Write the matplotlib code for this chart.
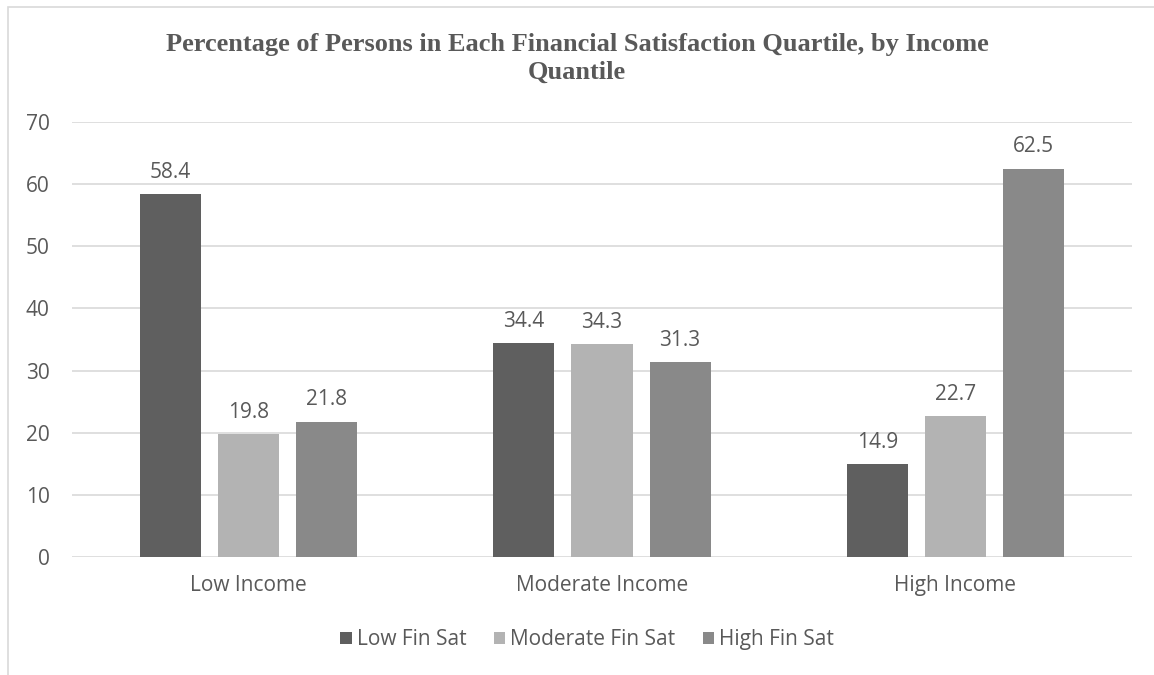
import numpy as np
import matplotlib.pyplot as plt
from matplotlib.patches import Rectangle

groups = ['Low Income', 'Moderate Income', 'High Income']
series = ['Low Fin Sat', 'Moderate Fin Sat', 'High Fin Sat']
low_fin = [58.4, 34.4, 14.9]
mod_fin = [19.8, 34.3, 22.7]
high_fin = [21.8, 31.3, 62.5]
colors = ['#5f5f5f', '#b3b3b3', '#898989']
title_lines = ['Percentage of Persons in Each Financial Satisfaction Quartile, by Income',
               'Quantile']

plt.rcParams['font.family'] = ['Open Sans', 'DejaVu Sans']
txt = '#595959'
fs = 15

fig = plt.figure(figsize=(11.54, 6.75), dpi=100)
# chart border (runs off the right and bottom edge)
fig.patches.append(Rectangle((8 / 1154, -0.05), 1.1, 1.05 - 7 / 675,
                             transform=fig.transFigure, fill=False,
                             edgecolor='#d9d9d9', lw=1.2))
ax = fig.add_axes([72 / 1154, 1 - 557 / 675, 1060 / 1154, 435 / 675])

x = np.arange(len(groups))
w = 0.173
step = 0.221
for i, (vals, name) in enumerate(zip([low_fin, mod_fin, high_fin], series)):
    bars = ax.bar(x + (i - 1) * step, vals, w, color=colors[i], label=name, zorder=3)
    for b, v in zip(bars, vals):
        ax.annotate(f'{v:.1f}', (b.get_x() + b.get_width() / 2, v),
                    xytext=(0, 8), textcoords='offset points',
                    ha='center', va='bottom', fontsize=fs, color=txt)

ax.set_xlim(-0.5, 2.5)
ax.set_ylim(0, 70)
ax.set_yticks(range(0, 71, 10))
ax.set_xticks(x)
ax.set_xticklabels(groups)
ax.grid(axis='y', color='#d9d9d9', lw=1.2, zorder=0)
for s in ax.spines.values():
    s.set_visible(False)
ax.tick_params(length=0, labelsize=fs, labelcolor=txt)
ax.tick_params(axis='y', pad=16)
ax.tick_params(axis='x', pad=13)

for yy, line in zip([45, 72], title_lines):
    fig.text(0.5, 1 - yy / 675, line, ha='center', va='center', fontsize=19,
             fontweight='bold', family='Liberation Serif', color=txt)

ax.legend(loc='center', bbox_to_anchor=(0.486, -0.19), ncol=3, frameon=False,
          fontsize=fs, labelcolor=txt, handlelength=0.55, handleheight=0.55,
          handletextpad=0.25, columnspacing=1.3)

fig.savefig('out.png', dpi=100)
